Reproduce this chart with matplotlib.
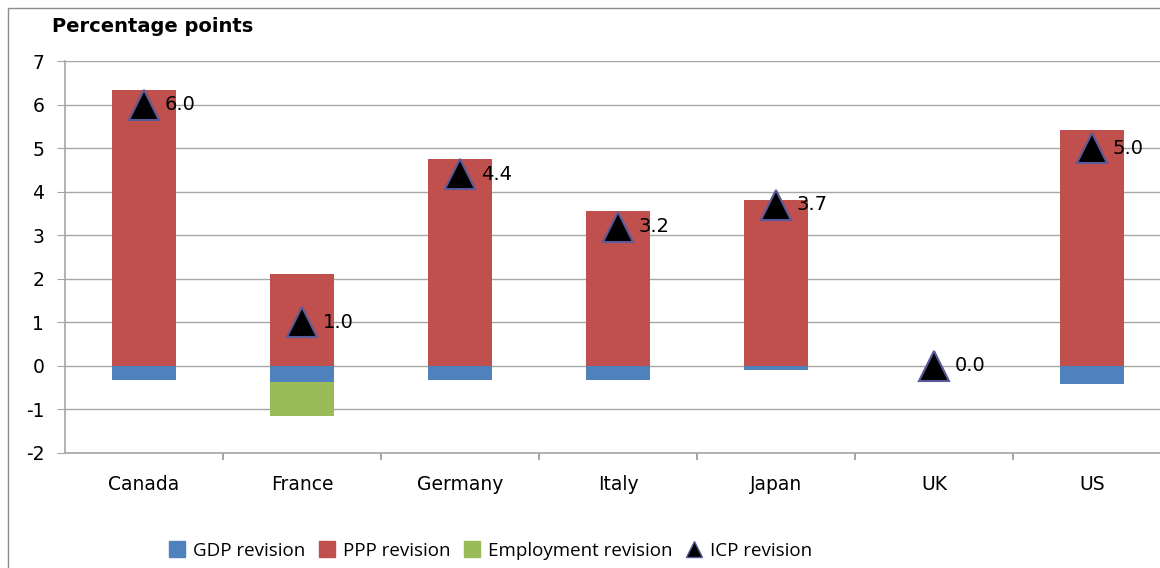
import matplotlib
matplotlib.use("Agg")
import matplotlib.pyplot as plt
from matplotlib.lines import Line2D
from matplotlib.patches import Rectangle
import numpy as np

plt.rcParams["axes.unicode_minus"] = False

countries = ["Canada", "France", "Germany", "Italy", "Japan", "UK", "US"]
gdp_rev = [-0.33, -0.36, -0.33, -0.33, -0.10, 0.0, -0.42]
ppp_rev = [6.33, 2.10, 4.75, 3.55, 3.80, 0.0, 5.42]
emp_rev = [0.0, -0.80, 0.0, 0.0, 0.0, 0.0, 0.0]
icp_rev = [6.0, 1.0, 4.4, 3.2, 3.7, 0.0, 5.0]

BLUE = "#4F81BD"
RED = "#C0504D"
GREEN = "#9BBB59"
GRID = "#A6A6A6"

fig = plt.figure(figsize=(11.6, 5.68), dpi=100)
ax = fig.add_axes([65 / 1160, 115 / 568, 1106 / 1160, 392 / 568])

x = np.arange(len(countries))
w = 0.41
ax.bar(x, ppp_rev, w, color=RED, zorder=2)
ax.bar(x, gdp_rev, w, color=BLUE, zorder=2)
ax.bar(x, emp_rev, w, bottom=gdp_rev, color=GREEN, zorder=2)
ax.plot(x, icp_rev, linestyle="none", marker="^", markersize=21,
        markerfacecolor="black", markeredgecolor="#5A5A9A", markeredgewidth=1.5, zorder=3)
for xi, v in zip(x, icp_rev):
    ax.annotate(f"{v:.1f}", (xi, v), xytext=(15, 0), textcoords="offset points",
                va="center", ha="left", fontsize=14, zorder=4)

ax.set_xlim(-0.5, len(countries) - 0.5)
ax.set_ylim(-2, 7)
ax.set_yticks(range(-2, 8))
ax.yaxis.grid(True, color=GRID, linewidth=1)
ax.set_axisbelow(True)
ax.set_xticks(x)
ax.set_xticklabels(countries, fontsize=13.5)
ax.set_xticks(np.arange(0.5, len(countries) - 0.5), minor=True)
ax.tick_params(axis="x", which="major", length=0, pad=16)
ax.tick_params(axis="x", which="minor", length=5, color=GRID, width=1.5)
ax.tick_params(axis="y", length=6, color=GRID, labelsize=13.5, pad=9)
for s in ("top", "right"):
    ax.spines[s].set_visible(False)
for s in ("left", "bottom"):
    ax.spines[s].set_color(GRID)
    ax.spines[s].set_linewidth(1.2)

fig.text(52 / 1160, 1 - 26 / 568, "Percentage points", fontsize=14,
         fontweight="bold", va="center", ha="left")

# outer chart border
fig.patches.append(Rectangle((8 / 1160, -0.1), 1.2, 1 - 8 / 568 + 0.1,
                             transform=fig.transFigure, fill=False,
                             edgecolor="#8C8C8C", linewidth=1))

handles = [
    Line2D([], [], linestyle="none", marker="s", markersize=11, color=BLUE),
    Line2D([], [], linestyle="none", marker="s", markersize=11, color=RED),
    Line2D([], [], linestyle="none", marker="s", markersize=11, color=GREEN),
    Line2D([], [], linestyle="none", marker="^", markersize=11,
           markerfacecolor="black", markeredgecolor="#5A5A9A"),
]
labels = ["GDP revision", "PPP revision", "Employment revision", "ICP revision"]
fig.legend(handles, labels, loc="center left", bbox_to_anchor=(148 / 1160, 1 - 551 / 568),
           ncol=4, frameon=False, handletextpad=0.2, columnspacing=0.5,
           handlelength=1.3, prop={"family": "Open Sans", "size": 13.5})

fig.savefig("out.png", dpi=100)
